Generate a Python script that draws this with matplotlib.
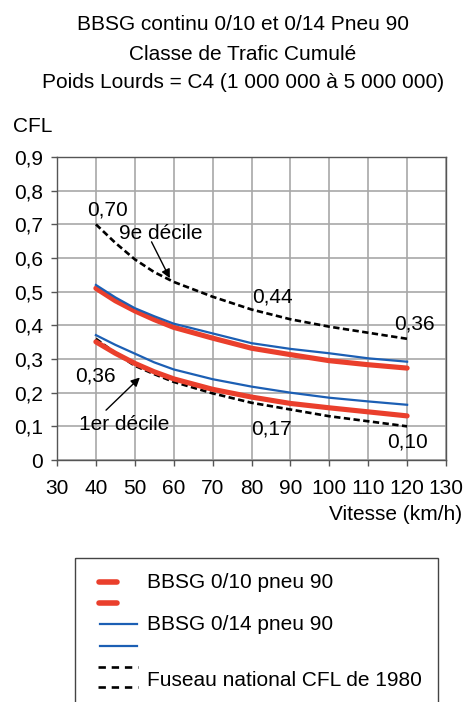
import matplotlib
matplotlib.use("Agg")
import matplotlib.pyplot as plt
from matplotlib.lines import Line2D
from matplotlib.patches import Rectangle

plt.rcParams['font.family'] = ['Liberation Sans', 'DejaVu Sans']

vitesse = [40, 45, 50, 55, 60, 70, 80, 90, 100, 110, 120]
bbsg010_haut = [0.51, 0.473, 0.443, 0.417, 0.394, 0.362, 0.332, 0.313, 0.295, 0.283, 0.273]
bbsg010_bas = [0.351, 0.317, 0.287, 0.262, 0.241, 0.21, 0.187, 0.168, 0.155, 0.143, 0.131]
bbsg014_haut = [0.52, 0.483, 0.451, 0.427, 0.405, 0.376, 0.347, 0.33, 0.317, 0.302, 0.292]
bbsg014_bas = [0.371, 0.342, 0.316, 0.29, 0.269, 0.24, 0.218, 0.2, 0.185, 0.174, 0.164]
fuseau_haut = [0.70, 0.645, 0.596, 0.558, 0.529, 0.485, 0.447, 0.418, 0.396, 0.378, 0.36]
fuseau_bas = [0.36, 0.318, 0.28, 0.255, 0.232, 0.198, 0.17, 0.15, 0.13, 0.115, 0.10]

xticks = [30, 40, 50, 60, 70, 80, 90, 100, 110, 120, 130]
yticks = [0, 0.1, 0.2, 0.3, 0.4, 0.5, 0.6, 0.7, 0.8, 0.9]
ytick_labels = ["0", "0,1", "0,2", "0,3", "0,4", "0,5", "0,6", "0,7", "0,8", "0,9"]

titre = ["BBSG continu 0/10 et 0/14 Pneu 90", "Classe de Trafic Cumulé",
         "Poids Lourds = C4 (1 000 000 à 5 000 000)"]
legende = ["BBSG 0/10 pneu 90", "BBSG 0/14 pneu 90", "Fuseau national CFL de 1980"]

RED = "#ea3f2c"
BLUE = "#1c5fb4"
W, H = 465, 702
fig = plt.figure(figsize=(W / 100, H / 100), dpi=100)

def fx(px):
    return px / W

def fy(py):
    return 1 - py / H

ax = fig.add_axes([fx(57), fy(460), fx(446) - fx(57), fy(157) - fy(460)])
ax.set_xlim(30, 130)
ax.set_ylim(0, 0.9)
ax.set_xticks(xticks)
ax.set_xticklabels([str(t) for t in xticks])
ax.set_yticks(yticks)
ax.set_yticklabels(ytick_labels)
ax.grid(True, color="#a8a8a8", linewidth=1.2)
ax.set_axisbelow(True)
for s in ax.spines.values():
    s.set_color("#555555")
    s.set_linewidth(1.0)
fs = 15
ax.tick_params(labelsize=fs, length=4, width=1, color="#555555")
ax.tick_params(axis="x", pad=10)
ax.tick_params(axis="y", pad=6)

dash = (0, (2.4, 1.3))
ax.plot(vitesse, fuseau_haut, color="black", lw=1.9, ls=dash, zorder=3)
ax.plot(vitesse, fuseau_bas, color="black", lw=1.9, ls=dash, zorder=3)
ax.plot(vitesse, bbsg010_haut, color=RED, lw=3.7, solid_capstyle="round", zorder=4)
ax.plot(vitesse, bbsg010_bas, color=RED, lw=3.7, solid_capstyle="round", zorder=4)
ax.plot(vitesse, bbsg014_haut, color=BLUE, lw=1.6, zorder=5)
ax.plot(vitesse, bbsg014_bas, color=BLUE, lw=1.6, zorder=5)

ax.text(43.1, 0.742, "0,70", fontsize=fs, ha="center", va="center")
ax.text(85.3, 0.483, "0,44", fontsize=fs, ha="center", va="center")
ax.text(121.8, 0.404, "0,36", fontsize=fs, ha="center", va="center")
ax.text(40.0, 0.25, "0,36", fontsize=fs, ha="center", va="center")
ax.text(85.0, 0.092, "0,17", fontsize=fs, ha="center", va="center")
ax.text(120.1, 0.052, "0,10", fontsize=fs, ha="center", va="center")
ax.text(56.7, 0.674, "9e décile", fontsize=fs, ha="center", va="center")
ax.text(47.2, 0.105, "1er décile", fontsize=fs, ha="center", va="center")

arrow = dict(arrowstyle="-|>", color="black", lw=1, mutation_scale=13, shrinkA=0, shrinkB=0)
ax.annotate("", xy=(59.0, 0.54), xytext=(54.3, 0.648), arrowprops=arrow, zorder=6)
ax.annotate("", xy=(51.3, 0.245), xytext=(42.6, 0.148), arrowprops=arrow, zorder=6)

fig.text(fx(13), fy(127), "CFL", fontsize=fs, ha="left", va="center")
fig.text(fx(462), fy(515), "Vitesse (km/h)", fontsize=fs, ha="right", va="center")

for txt, py in zip(titre, [25, 54, 83]):
    fig.text(fx(243), fy(py), txt, fontsize=fs, ha="center", va="center")

# legend box (drawn in figure pixel space)
lg = fig.add_axes([0, 0, 1, 1])
lg.set_xlim(0, W)
lg.set_ylim(H, 0)
lg.axis("off")
lg.add_patch(Rectangle((75, 558), 438 - 75, 200, fill=False, edgecolor="#444444", lw=1.0))
lg.add_line(Line2D([99, 117], [582, 582], color=RED, lw=4, solid_capstyle="round"))
lg.add_line(Line2D([99, 117], [603, 603], color=RED, lw=4, solid_capstyle="round"))
lg.add_line(Line2D([100, 137], [624, 624], color=BLUE, lw=1.6))
lg.add_line(Line2D([100, 137], [646, 646], color=BLUE, lw=1.6))
lg.add_line(Line2D([98, 138], [667, 667], color="black", lw=1.9, ls=(0, (2.8, 2.2))))
lg.add_line(Line2D([98, 138], [687, 687], color="black", lw=1.9, ls=(0, (2.8, 2.2))))
lg.text(147, 582, legende[0], fontsize=fs, ha="left", va="center")
lg.text(147, 624, legende[1], fontsize=fs, ha="left", va="center")
lg.text(147, 680, legende[2], fontsize=fs, ha="left", va="center")

fig.savefig("out.png", dpi=100)
